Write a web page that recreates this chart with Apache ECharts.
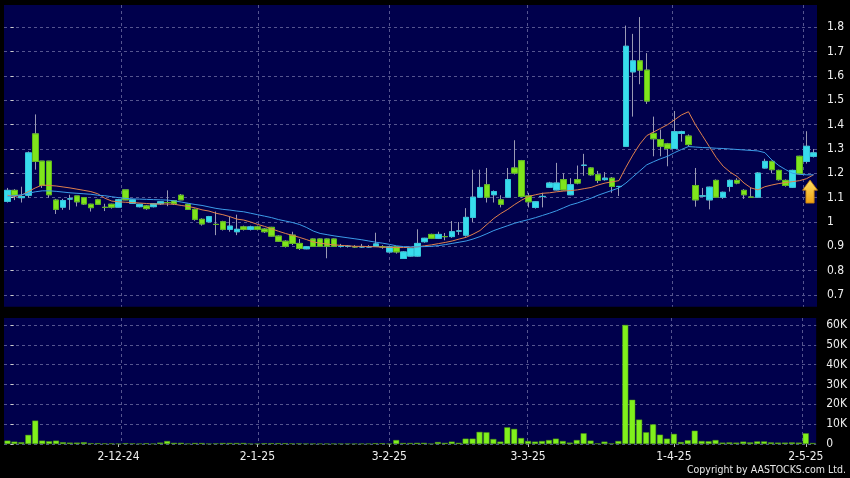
<!DOCTYPE html>
<html><head><meta charset="utf-8">
<script src="https://cdn.jsdelivr.net/npm/echarts@6/dist/echarts.min.js"></script>
<style>html,body{margin:0;padding:0;background:#000;}#c{width:850px;height:478px;}</style>
</head><body><div id="c"></div><script>
const dates = [
'8-11-24','11-11-24','12-11-24','13-11-24','14-11-24','15-11-24','18-11-24','19-11-24','20-11-24','21-11-24','22-11-24','25-11-24','26-11-24','27-11-24','28-11-24','29-11-24',
'2-12-24','3-12-24','4-12-24','5-12-24','6-12-24','9-12-24','10-12-24','11-12-24','12-12-24','13-12-24','16-12-24','17-12-24','18-12-24','19-12-24','20-12-24','23-12-24','24-12-24','27-12-24','30-12-24','31-12-24',
'2-1-25','3-1-25','6-1-25','7-1-25','8-1-25','9-1-25','10-1-25','13-1-25','14-1-25','15-1-25','16-1-25','17-1-25','20-1-25','21-1-25','22-1-25','23-1-25','24-1-25','27-1-25','28-1-25',
'3-2-25','4-2-25','5-2-25','6-2-25','7-2-25','10-2-25','11-2-25','12-2-25','13-2-25','14-2-25','17-2-25','18-2-25','19-2-25','20-2-25','21-2-25','24-2-25','25-2-25','26-2-25','27-2-25','28-2-25',
'3-3-25','4-3-25','5-3-25','6-3-25','7-3-25','10-3-25','11-3-25','12-3-25','13-3-25','14-3-25','17-3-25','18-3-25','19-3-25','20-3-25','21-3-25','24-3-25','25-3-25','26-3-25','27-3-25','28-3-25','31-3-25',
'1-4-25','2-4-25','3-4-25','7-4-25','8-4-25','9-4-25','10-4-25','11-4-25','14-4-25','15-4-25','16-4-25','17-4-25','22-4-25','23-4-25','24-4-25','25-4-25','28-4-25','29-4-25','30-4-25',
'2-5-25','6-5-25'];
const tickLabels = ['2-12-24','2-1-25','3-2-25','3-3-25','1-4-25','2-5-25'];
const priceTicks = [0.7,0.8,0.9,1.0,1.1,1.2,1.3,1.4,1.5,1.6,1.7,1.8];
const volumeTicks = [0,10000,20000,30000,40000,50000,60000];

const opens = [1.085,1.13,1.10,1.11,1.362,1.25,1.25,1.09,1.061,1.095,1.107,1.10,1.073,1.091,1.06,1.073,
1.061,1.132,1.077,1.063,1.066,1.063,1.075,1.08,1.088,1.11,1.073,1.052,1.011,1.001,0.99,1.001,0.97,0.96,0.98,0.97,
0.98,0.971,0.978,0.942,0.921,0.946,0.912,0.89,0.93,0.93,0.93,0.93,0.90,0.90,0.898,0.898,0.898,0.90,0.898,
0.877,0.898,0.85,0.86,0.86,0.919,0.949,0.933,0.94,0.94,0.963,0.946,1.019,1.102,1.153,1.112,1.091,1.102,1.222,1.252,
1.107,1.06,1.105,1.143,1.132,1.174,1.112,1.174,1.233,1.222,1.194,1.174,1.18,1.146,1.311,1.617,1.662,1.624,1.364,1.339,1.321,
1.302,1.364,1.353,1.15,1.107,1.091,1.171,1.102,1.146,1.171,1.13,1.102,1.102,1.222,1.249,1.212,1.171,1.143,1.27,
1.249,1.27];
const closes = [1.13,1.11,1.105,1.284,1.249,1.15,1.112,1.052,1.088,1.095,1.083,1.074,1.059,1.073,1.06,1.061,
1.091,1.091,1.091,1.073,1.055,1.075,1.083,1.08,1.075,1.091,1.052,1.011,0.992,1.022,0.99,0.97,0.983,0.97,0.97,0.98,
0.97,0.96,0.942,0.921,0.90,0.912,0.891,0.898,0.90,0.90,0.90,0.90,0.90,0.90,0.898,0.898,0.898,0.91,0.898,
0.898,0.877,0.877,0.891,0.912,0.933,0.933,0.949,0.94,0.96,0.963,1.019,1.102,1.142,1.102,1.125,1.073,1.174,1.201,1.105,
1.083,1.083,1.105,1.16,1.16,1.132,1.153,1.16,1.233,1.194,1.171,1.18,1.146,1.146,1.722,1.662,1.624,1.497,1.342,1.311,1.302,
1.371,1.371,1.318,1.091,1.107,1.143,1.102,1.122,1.171,1.16,1.112,1.102,1.201,1.249,1.215,1.174,1.15,1.212,1.198,
1.311,1.284];
const lows = [1.08,1.09,1.08,1.10,1.215,1.14,1.10,1.033,1.05,1.05,1.064,1.07,1.043,1.07,1.045,1.055,
1.06,1.09,1.075,1.06,1.05,1.06,1.07,1.065,1.07,1.09,1.05,1.005,0.985,0.998,0.946,0.965,0.96,0.946,0.965,0.965,
0.965,0.955,0.94,0.918,0.895,0.905,0.885,0.888,0.898,0.898,0.851,0.898,0.895,0.895,0.894,0.894,0.895,0.90,0.89,
0.875,0.87,0.848,0.858,0.858,0.915,0.93,0.93,0.925,0.935,0.947,0.94,1.0,1.10,1.08,1.08,1.06,1.10,1.195,1.10,
1.06,1.055,1.06,1.14,1.13,1.13,1.11,1.155,1.19,1.19,1.16,1.17,1.12,1.107,1.311,1.433,1.566,1.485,1.27,1.27,1.229,
1.30,1.33,1.31,1.063,1.105,1.052,1.10,1.095,1.125,1.155,1.095,1.10,1.10,1.22,1.20,1.17,1.145,1.14,1.195,
1.24,1.265];
const highs = [1.14,1.135,1.145,1.29,1.442,1.25,1.25,1.095,1.095,1.112,1.107,1.10,1.075,1.095,1.075,1.075,
1.095,1.132,1.095,1.075,1.07,1.078,1.085,1.13,1.09,1.115,1.075,1.055,1.015,1.025,1.043,1.005,1.022,1.03,0.985,0.985,
0.985,0.975,0.98,0.945,0.925,0.96,0.93,0.90,0.932,0.932,0.932,0.932,0.91,0.905,0.905,0.91,0.905,0.956,0.905,
0.90,0.90,0.88,0.895,0.97,0.935,0.952,0.96,0.955,1.004,1.0,1.057,1.215,1.215,1.222,1.13,1.11,1.222,1.336,1.255,
1.12,1.085,1.12,1.165,1.243,1.20,1.18,1.232,1.28,1.225,1.21,1.205,1.185,1.148,1.807,1.773,1.842,1.694,1.433,1.38,1.325,
1.456,1.375,1.36,1.222,1.14,1.145,1.175,1.125,1.175,1.18,1.135,1.14,1.205,1.26,1.252,1.215,1.175,1.215,1.272,
1.373,1.30];
const volumes = [1700,1200,900,4600,11800,1700,1400,1700,900,700,700,900,400,400,300,300,
200,400,300,200,400,200,700,1500,600,600,200,500,500,200,300,500,500,500,500,200,
200,400,400,400,400,300,300,200,200,200,200,200,200,200,200,200,200,400,400,
200,2000,500,500,600,600,200,1000,600,1200,600,2700,2700,6100,5900,2500,1200,8400,7600,3000,
1500,1200,1500,2000,2700,1500,700,2000,5400,1700,300,1200,300,1500,60000,22300,12300,5900,9900,4700,2700,
5100,1000,1900,6700,1500,1400,2000,700,800,700,1200,800,1300,1300,800,700,700,800,700,
5400,500];
const ma10 = [1.11,1.105,1.11,1.125,1.14,1.152,1.15,1.148,1.144,1.14,1.135,1.13,1.125,1.116,1.098,1.086,
1.083,1.081,1.08,1.078,1.076,1.074,1.074,1.074,1.073,1.068,1.064,1.058,1.05,1.045,1.036,1.03,1.022,1.012,1.008,1.0,
0.99,0.982,0.972,0.962,0.953,0.945,0.937,0.928,0.918,0.913,0.909,0.906,0.904,0.902,0.90,0.90,0.899,0.898,0.897,
0.896,0.895,0.895,0.896,0.898,0.902,0.906,0.911,0.916,0.922,0.93,0.937,0.95,0.965,0.99,1.015,1.035,1.052,1.072,1.09,
1.105,1.112,1.118,1.12,1.124,1.127,1.129,1.132,1.137,1.142,1.152,1.16,1.165,1.17,1.225,1.275,1.32,1.355,1.37,1.385,1.40,
1.42,1.44,1.453,1.40,1.355,1.31,1.265,1.229,1.205,1.187,1.16,1.14,1.132,1.145,1.152,1.158,1.162,1.166,1.17,
1.178,1.194];
const ma20 = [1.105,1.108,1.112,1.118,1.124,1.128,1.128,1.126,1.123,1.12,1.118,1.116,1.114,1.11,1.108,1.104,
1.10,1.097,1.095,1.094,1.093,1.092,1.091,1.09,1.087,1.082,1.077,1.072,1.068,1.062,1.056,1.052,1.049,1.045,1.042,1.036,
1.03,1.024,1.018,1.01,1.004,0.998,0.99,0.978,0.963,0.953,0.948,0.943,0.939,0.935,0.931,0.927,0.922,0.917,0.913,
0.908,0.902,0.899,0.898,0.898,0.899,0.90,0.903,0.907,0.912,0.917,0.922,0.93,0.94,0.952,0.965,0.975,0.985,0.995,1.003,
1.01,1.018,1.027,1.036,1.046,1.058,1.07,1.078,1.088,1.098,1.11,1.12,1.13,1.14,1.16,1.185,1.21,1.235,1.248,1.26,1.27,
1.285,1.298,1.31,1.308,1.306,1.305,1.303,1.302,1.30,1.298,1.296,1.294,1.292,1.285,1.255,1.232,1.215,1.20,1.196,
1.194,1.194];

const FONT = "'DejaVu Sans Condensed','DejaVu Sans',sans-serif";
const NAVY = '#00004c';
const GRIDC = '#55558f';
const tickIdx = tickLabels.map(t => dates.indexOf(t));
const ohlc = dates.map((d, i) => [opens[i], closes[i], lows[i], highs[i]]);
const bodies = dates.map((d, i) => [opens[i], closes[i], Math.min(opens[i], closes[i]), Math.max(opens[i], closes[i])]);

const chart = echarts.init(document.getElementById('c'));
const hiddenX = (g) => ({
  type: 'value', gridIndex: g, min: -0.97, max: 117.03,
  axisLine: {show: false}, axisLabel: {show: false},
  axisTick: {show: false, customValues: tickIdx},
  splitLine: {show: true, lineStyle: {color: GRIDC, type: [3, 3], width: 1}}
});
chart.setOption({
  backgroundColor: '#000',
  animation: false,
  grid: [
    {left: 4, right: 33, top: 5, height: 301.7, show: true, backgroundColor: NAVY, borderWidth: 0},
    {left: 4, right: 33, top: 318, height: 126, show: true, backgroundColor: NAVY, borderWidth: 0}
  ],
  xAxis: [
    {type: 'category', gridIndex: 0, data: dates, boundaryGap: true,
     axisLine: {show: false}, axisTick: {show: false}, axisLabel: {show: false}, splitLine: {show: false}},
    {type: 'category', gridIndex: 1, data: dates, boundaryGap: true, offset: 3,
     axisLine: {show: false},
     axisTick: {show: true, alignWithLabel: true, length: 3, interval: (i) => tickIdx.includes(i), lineStyle: {color: '#bbbbbb'}},
     axisLabel: {interval: (i) => tickIdx.includes(i), color: '#eeeeee', fontFamily: FONT, fontSize: 12, margin: 4},
     splitLine: {show: false}},
    hiddenX(0), hiddenX(1)
  ],
  yAxis: [
    {type: 'value', gridIndex: 0, position: 'right', min: 0.652, max: 1.8916, offset: 3,
     axisLine: {show: false},
     axisTick: {show: true, length: 3, customValues: priceTicks, lineStyle: {color: '#cccccc'}},
     axisLabel: {customValues: priceTicks, color: '#eeeeee', fontFamily: FONT, fontSize: 12, margin: 7,
       formatter: v => String(Math.round(v * 10) / 10)},
     splitLine: {show: true, lineStyle: {color: GRIDC, type: [3, 3], width: 1}}},
    {type: 'value', gridIndex: 1, position: 'right', min: 0, max: 63500, offset: 3,
     axisLine: {show: false},
     axisTick: {show: true, length: 3, customValues: volumeTicks, lineStyle: {color: '#cccccc'}},
     axisLabel: {customValues: volumeTicks, color: '#eeeeee', fontFamily: FONT, fontSize: 12, margin: 7,
       formatter: v => v === 0 ? '0' : (v / 1000) + 'K'},
     splitLine: {show: true, lineStyle: {color: GRIDC, type: [3, 3], width: 1}}}
  ],
  series: [
    {type: 'candlestick', xAxisIndex: 0, yAxisIndex: 0, data: ohlc, barWidth: 6, z: 2,
     itemStyle: {color: 'rgba(0,0,0,0)', color0: 'rgba(0,0,0,0)', borderColor: '#9a9ab4', borderColor0: '#9a9ab4', borderWidth: 1}},
    {type: 'candlestick', xAxisIndex: 0, yAxisIndex: 0, data: bodies, barWidth: 6, z: 3,
     itemStyle: {color: '#38dcec', color0: '#80e41c', borderColor: '#30c8dc', borderColor0: '#5cb818', borderWidth: 1},
     markPoint: {
       silent: true,
       data: [{coord: [dates[dates.length - 1], 1.125],
         symbol: 'path://M7.3,0 L14.6,10 L11.3,10 L11.3,22.7 L3.3,22.7 L3.3,10 L0,10 Z',
         symbolSize: [15, 23], symbolOffset: [-3.5, 0],
         itemStyle: {color: {type: 'linear', x: 0, y: 0, x2: 0, y2: 1, colorStops: [{offset: 0, color: '#ffe066'}, {offset: 1, color: '#f0a010'}]},
           borderColor: '#c07a10', borderWidth: 0.8},
         label: {show: false}}]
     }},
    {type: 'line', xAxisIndex: 0, yAxisIndex: 0, data: ma10, symbol: 'none', z: 4,
     lineStyle: {color: '#e0804c', width: 1}},
    {type: 'line', xAxisIndex: 0, yAxisIndex: 0, data: ma20, symbol: 'none', z: 4,
     lineStyle: {color: '#3c9ce8', width: 1}},
    {type: 'bar', xAxisIndex: 1, yAxisIndex: 1, data: volumes, barWidth: 6,
     itemStyle: {color: '#80f01c', borderColor: '#4c9414', borderWidth: 0.5}}
  ],
  graphic: [
    {type: 'text', right: 4, top: 465,
     style: {text: 'Copyright by AASTOCKS.com Ltd.', fill: '#e8e8e8', font: "10.5px 'DejaVu Sans Condensed','DejaVu Sans',sans-serif"}}
  ]
});
</script></body></html>
